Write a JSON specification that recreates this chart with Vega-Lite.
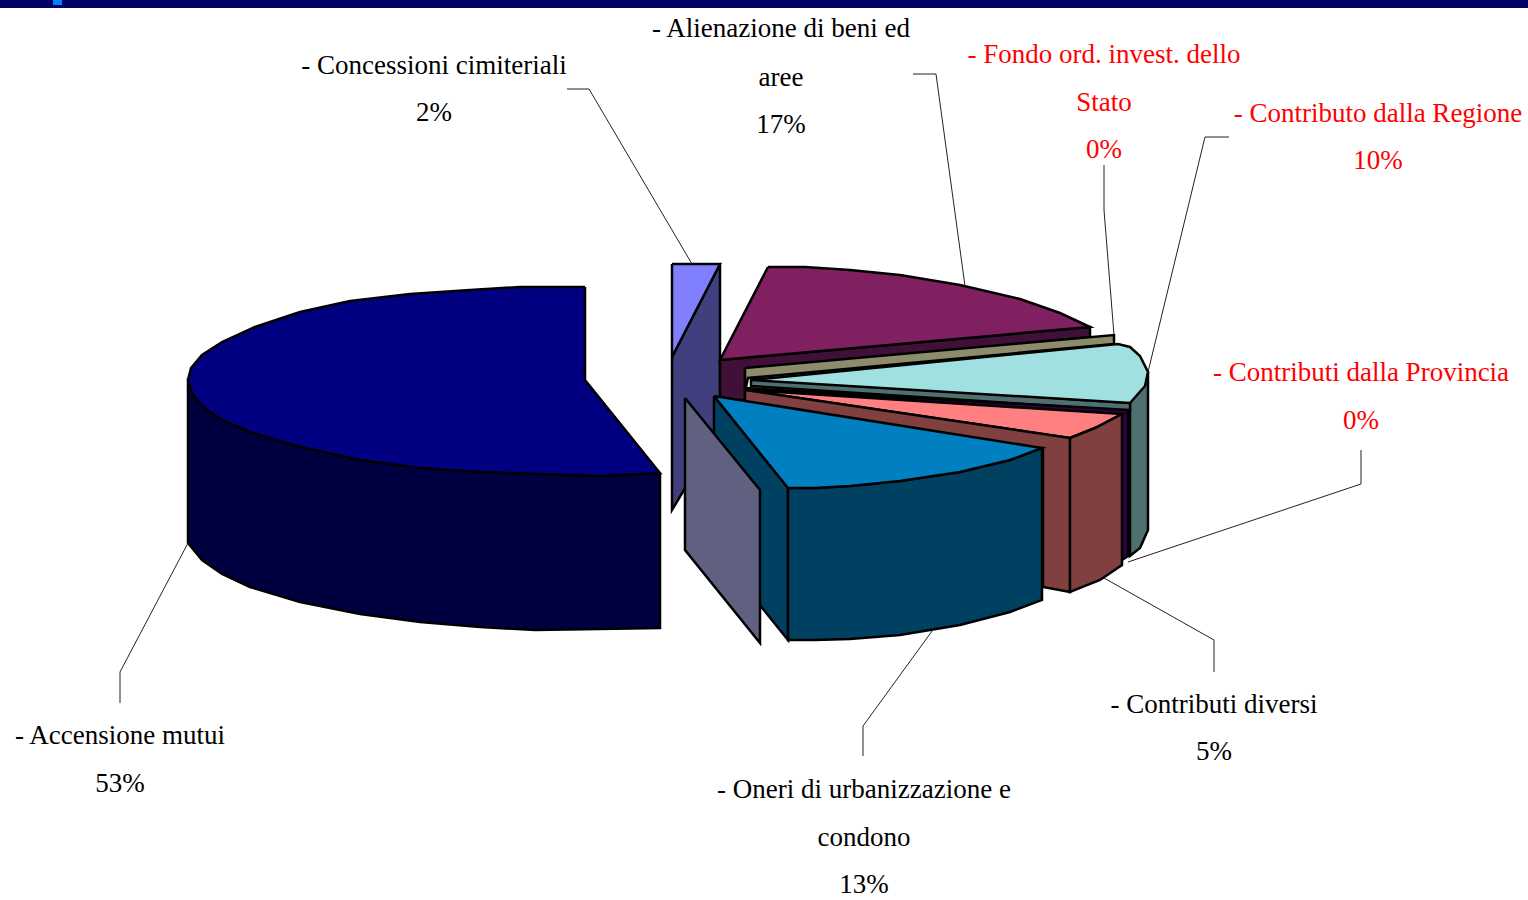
{"$schema":"https://vega.github.io/schema/vega-lite/v6.json","width":1528,"height":900,"autosize":{"type":"none"},"padding":0,"background":"white","config":{"view":{"stroke":null}},
"datasets":{
"top":[{"f":"fascia","i":0,"x":0,"y":0},{"f":"fascia","i":1,"x":1528,"y":0},{"f":"fascia","i":2,"x":1528,"y":8},{"f":"fascia","i":3,"x":0,"y":8},{"f":"fascia","i":4,"x":0,"y":0},
{"f":"tacca","i":0,"x":53,"y":0},{"f":"tacca","i":1,"x":62,"y":0},{"f":"tacca","i":2,"x":62,"y":5},{"f":"tacca","i":3,"x":53,"y":5},{"f":"tacca","i":4,"x":53,"y":0}],
"faces":[
{"f":"mutui_lato","i":0,"x":660,"y":473},{"f":"mutui_lato","i":1,"x":660,"y":628},{"f":"mutui_lato","i":2,"x":600,"y":629},{"f":"mutui_lato","i":3,"x":535,"y":630},{"f":"mutui_lato","i":4,"x":480,"y":627},{"f":"mutui_lato","i":5,"x":420,"y":622},{"f":"mutui_lato","i":6,"x":360,"y":614},{"f":"mutui_lato","i":7,"x":300,"y":602},{"f":"mutui_lato","i":8,"x":250,"y":587},{"f":"mutui_lato","i":9,"x":222,"y":574},{"f":"mutui_lato","i":10,"x":202,"y":560},{"f":"mutui_lato","i":11,"x":188,"y":543},{"f":"mutui_lato","i":12,"x":188,"y":380},{"f":"mutui_lato","i":13,"x":660,"y":473},
{"f":"mutui_sopra","i":0,"x":585,"y":287},{"f":"mutui_sopra","i":1,"x":585,"y":380},{"f":"mutui_sopra","i":2,"x":660,"y":473},{"f":"mutui_sopra","i":3,"x":600,"y":476},{"f":"mutui_sopra","i":4,"x":540,"y":474},{"f":"mutui_sopra","i":5,"x":480,"y":472},{"f":"mutui_sopra","i":6,"x":420,"y":468},{"f":"mutui_sopra","i":7,"x":360,"y":460},{"f":"mutui_sopra","i":8,"x":300,"y":447},{"f":"mutui_sopra","i":9,"x":250,"y":432},{"f":"mutui_sopra","i":10,"x":222,"y":420},{"f":"mutui_sopra","i":11,"x":202,"y":406},{"f":"mutui_sopra","i":12,"x":192,"y":393},{"f":"mutui_sopra","i":13,"x":188,"y":380},{"f":"mutui_sopra","i":14,"x":191,"y":368},{"f":"mutui_sopra","i":15,"x":202,"y":355},{"f":"mutui_sopra","i":16,"x":222,"y":342},{"f":"mutui_sopra","i":17,"x":255,"y":327},{"f":"mutui_sopra","i":18,"x":300,"y":312},{"f":"mutui_sopra","i":19,"x":350,"y":301},{"f":"mutui_sopra","i":20,"x":410,"y":294},{"f":"mutui_sopra","i":21,"x":470,"y":290},{"f":"mutui_sopra","i":22,"x":520,"y":287},{"f":"mutui_sopra","i":23,"x":585,"y":287},
{"f":"concessioni_lato","i":0,"x":672,"y":357},{"f":"concessioni_lato","i":1,"x":720,"y":264},{"f":"concessioni_lato","i":2,"x":720,"y":430},{"f":"concessioni_lato","i":3,"x":672,"y":510},{"f":"concessioni_lato","i":4,"x":672,"y":357},
{"f":"concessioni_sopra","i":0,"x":672,"y":264},{"f":"concessioni_sopra","i":1,"x":720,"y":264},{"f":"concessioni_sopra","i":2,"x":672,"y":357},{"f":"concessioni_sopra","i":3,"x":672,"y":264},
{"f":"alienazione_lato","i":0,"x":720,"y":360},{"f":"alienazione_lato","i":1,"x":1090,"y":327},{"f":"alienazione_lato","i":2,"x":1090,"y":337},{"f":"alienazione_lato","i":3,"x":745,"y":370},{"f":"alienazione_lato","i":4,"x":745,"y":400},{"f":"alienazione_lato","i":5,"x":720,"y":400},{"f":"alienazione_lato","i":6,"x":720,"y":360},
{"f":"alienazione_sopra","i":0,"x":768,"y":267},{"f":"alienazione_sopra","i":1,"x":805,"y":267},{"f":"alienazione_sopra","i":2,"x":850,"y":270},{"f":"alienazione_sopra","i":3,"x":900,"y":275},{"f":"alienazione_sopra","i":4,"x":960,"y":285},{"f":"alienazione_sopra","i":5,"x":1020,"y":299},{"f":"alienazione_sopra","i":6,"x":1060,"y":313},{"f":"alienazione_sopra","i":7,"x":1090,"y":327},{"f":"alienazione_sopra","i":8,"x":720,"y":360},{"f":"alienazione_sopra","i":9,"x":768,"y":267},
{"f":"fondo","i":0,"x":745,"y":368},{"f":"fondo","i":1,"x":1114,"y":335},{"f":"fondo","i":2,"x":1114,"y":344},{"f":"fondo","i":3,"x":748,"y":378},{"f":"fondo","i":4,"x":745,"y":392},{"f":"fondo","i":5,"x":745,"y":368},
{"f":"regione_lato","i":0,"x":1130,"y":403},{"f":"regione_lato","i":1,"x":1148,"y":375},{"f":"regione_lato","i":2,"x":1148,"y":530},{"f":"regione_lato","i":3,"x":1140,"y":548},{"f":"regione_lato","i":4,"x":1130,"y":556},{"f":"regione_lato","i":5,"x":1130,"y":403},
{"f":"regione_taglio","i":0,"x":751,"y":378},{"f":"regione_taglio","i":1,"x":1130,"y":403},{"f":"regione_taglio","i":2,"x":1130,"y":411},{"f":"regione_taglio","i":3,"x":751,"y":386},{"f":"regione_taglio","i":4,"x":751,"y":378},
{"f":"regione_sopra","i":0,"x":751,"y":380},{"f":"regione_sopra","i":1,"x":1118,"y":344},{"f":"regione_sopra","i":2,"x":1130,"y":347},{"f":"regione_sopra","i":3,"x":1140,"y":356},{"f":"regione_sopra","i":4,"x":1148,"y":372},{"f":"regione_sopra","i":5,"x":1145,"y":386},{"f":"regione_sopra","i":6,"x":1130,"y":403},{"f":"regione_sopra","i":7,"x":751,"y":380},
{"f":"provincia","i":0,"x":745,"y":388},{"f":"provincia","i":1,"x":1128,"y":410},{"f":"provincia","i":2,"x":1128,"y":556},{"f":"provincia","i":3,"x":1122,"y":560},{"f":"provincia","i":4,"x":1122,"y":416},{"f":"provincia","i":5,"x":745,"y":388},
{"f":"diversi_sopra","i":0,"x":745,"y":390},{"f":"diversi_sopra","i":1,"x":1122,"y":414},{"f":"diversi_sopra","i":2,"x":1095,"y":428},{"f":"diversi_sopra","i":3,"x":1070,"y":438},{"f":"diversi_sopra","i":4,"x":745,"y":390},
{"f":"diversi_taglio","i":0,"x":745,"y":390},{"f":"diversi_taglio","i":1,"x":1070,"y":438},{"f":"diversi_taglio","i":2,"x":1070,"y":592},{"f":"diversi_taglio","i":3,"x":1043,"y":587},{"f":"diversi_taglio","i":4,"x":1043,"y":450},{"f":"diversi_taglio","i":5,"x":745,"y":402},{"f":"diversi_taglio","i":6,"x":745,"y":390},
{"f":"diversi_lato","i":0,"x":1070,"y":438},{"f":"diversi_lato","i":1,"x":1095,"y":428},{"f":"diversi_lato","i":2,"x":1122,"y":414},{"f":"diversi_lato","i":3,"x":1122,"y":565},{"f":"diversi_lato","i":4,"x":1100,"y":580},{"f":"diversi_lato","i":5,"x":1070,"y":592},{"f":"diversi_lato","i":6,"x":1070,"y":438},
{"f":"oneri_taglio","i":0,"x":714,"y":396},{"f":"oneri_taglio","i":1,"x":788,"y":488},{"f":"oneri_taglio","i":2,"x":788,"y":640},{"f":"oneri_taglio","i":3,"x":714,"y":548},{"f":"oneri_taglio","i":4,"x":714,"y":396},
{"f":"oneri_lato","i":0,"x":788,"y":488},{"f":"oneri_lato","i":1,"x":815,"y":488},{"f":"oneri_lato","i":2,"x":850,"y":486},{"f":"oneri_lato","i":3,"x":900,"y":481},{"f":"oneri_lato","i":4,"x":960,"y":472},{"f":"oneri_lato","i":5,"x":1010,"y":460},{"f":"oneri_lato","i":6,"x":1042,"y":448},{"f":"oneri_lato","i":7,"x":1042,"y":600},{"f":"oneri_lato","i":8,"x":1010,"y":612},{"f":"oneri_lato","i":9,"x":960,"y":625},{"f":"oneri_lato","i":10,"x":900,"y":635},{"f":"oneri_lato","i":11,"x":850,"y":639},{"f":"oneri_lato","i":12,"x":815,"y":640},{"f":"oneri_lato","i":13,"x":788,"y":640},{"f":"oneri_lato","i":14,"x":788,"y":488},
{"f":"oneri_sopra","i":0,"x":714,"y":396},{"f":"oneri_sopra","i":1,"x":1042,"y":448},{"f":"oneri_sopra","i":2,"x":1010,"y":460},{"f":"oneri_sopra","i":3,"x":960,"y":472},{"f":"oneri_sopra","i":4,"x":900,"y":481},{"f":"oneri_sopra","i":5,"x":850,"y":486},{"f":"oneri_sopra","i":6,"x":815,"y":488},{"f":"oneri_sopra","i":7,"x":788,"y":488},{"f":"oneri_sopra","i":8,"x":714,"y":396},
{"f":"pannello","i":0,"x":685,"y":398},{"f":"pannello","i":1,"x":760,"y":490},{"f":"pannello","i":2,"x":760,"y":643},{"f":"pannello","i":3,"x":685,"y":550},{"f":"pannello","i":4,"x":685,"y":398}
],
"leaders":[
{"f":"a","i":0,"x":567,"y":89},{"f":"a","i":1,"x":589,"y":89},{"f":"a","i":2,"x":692,"y":264},
{"f":"b","i":0,"x":913,"y":74},{"f":"b","i":1,"x":936,"y":74},{"f":"b","i":2,"x":965,"y":286},
{"f":"c","i":0,"x":1104,"y":165},{"f":"c","i":1,"x":1104,"y":210},{"f":"c","i":2,"x":1114,"y":335},
{"f":"d","i":0,"x":1229,"y":137},{"f":"d","i":1,"x":1205,"y":137},{"f":"d","i":2,"x":1148,"y":372},
{"f":"e","i":0,"x":1361,"y":450},{"f":"e","i":1,"x":1361,"y":484},{"f":"e","i":2,"x":1128,"y":562},
{"f":"g","i":0,"x":1214,"y":672},{"f":"g","i":1,"x":1214,"y":640},{"f":"g","i":2,"x":1104,"y":578},
{"f":"h","i":0,"x":863,"y":756},{"f":"h","i":1,"x":863,"y":726},{"f":"h","i":2,"x":935,"y":627},
{"f":"k","i":0,"x":120,"y":703},{"f":"k","i":1,"x":120,"y":672},{"f":"k","i":2,"x":188,"y":543}
],
"labels":[
{"t":"- Concessioni cimiteriali","x":434,"y":66,"c":"nero"},{"t":"2%","x":434,"y":113,"c":"nero"},
{"t":"- Alienazione di beni ed","x":781,"y":29,"c":"nero"},{"t":"aree","x":781,"y":78,"c":"nero"},{"t":"17%","x":781,"y":125,"c":"nero"},
{"t":"- Fondo ord. invest. dello","x":1104,"y":55,"c":"rosso"},{"t":"Stato","x":1104,"y":103,"c":"rosso"},{"t":"0%","x":1104,"y":150,"c":"rosso"},
{"t":"- Contributo dalla Regione","x":1378,"y":114,"c":"rosso"},{"t":"10%","x":1378,"y":161,"c":"rosso"},
{"t":"- Contributi dalla Provincia","x":1361,"y":373,"c":"rosso"},{"t":"0%","x":1361,"y":421,"c":"rosso"},
{"t":"- Contributi diversi","x":1214,"y":705,"c":"nero"},{"t":"5%","x":1214,"y":752,"c":"nero"},
{"t":"- Oneri di urbanizzazione e","x":864,"y":790,"c":"nero"},{"t":"condono","x":864,"y":838,"c":"nero"},{"t":"13%","x":864,"y":885,"c":"nero"},
{"t":"- Accensione mutui","x":120,"y":736,"c":"nero"},{"t":"53%","x":120,"y":784,"c":"nero"}
]},
"resolve":{"scale":{"color":"independent"}},
"layer":[
{"data":{"name":"top"},"mark":{"type":"line","filled":true,"strokeWidth":0},"encoding":{"x":{"field":"x","type":"quantitative","scale":{"domain":[0,1528]},"axis":null},"y":{"field":"y","type":"quantitative","scale":{"domain":[0,900],"reverse":true},"axis":null},"order":{"field":"i"},"color":{"field":"f","legend":null,"scale":{"domain":["fascia","tacca"],"range":["#000066","#0080ff"]}}}},
{"data":{"name":"faces"},"mark":{"type":"line","filled":true,"stroke":"black","strokeWidth":2.5,"strokeJoin":"miter"},"encoding":{"x":{"field":"x","type":"quantitative","scale":{"domain":[0,1528]},"axis":null},"y":{"field":"y","type":"quantitative","scale":{"domain":[0,900],"reverse":true},"axis":null},"order":{"field":"i"},"color":{"field":"f","legend":null,"scale":{"domain":["mutui_lato","mutui_sopra","concessioni_lato","concessioni_sopra","alienazione_lato","alienazione_sopra","fondo","regione_lato","regione_taglio","regione_sopra","provincia","diversi_sopra","diversi_taglio","diversi_lato","oneri_taglio","oneri_lato","oneri_sopra","pannello"],"range":["#000040","#000080","#40407f","#8080ff","#401038","#802060","#8c8c6c","#507070","#507070","#a0e0e0","#300048","#ff8080","#804040","#804040","#004060","#004060","#0080c0","#606080"]}}}},
{"data":{"name":"leaders"},"mark":{"type":"line","color":"#222222","strokeWidth":1},"encoding":{"x":{"field":"x","type":"quantitative","scale":{"domain":[0,1528]},"axis":null},"y":{"field":"y","type":"quantitative","scale":{"domain":[0,900],"reverse":true},"axis":null},"order":{"field":"i"},"detail":{"field":"f"}}},
{"data":{"name":"labels"},"mark":{"type":"text","font":"Liberation Serif","fontSize":27,"align":"center","baseline":"middle"},"encoding":{"x":{"field":"x","type":"quantitative","scale":{"domain":[0,1528]},"axis":null},"y":{"field":"y","type":"quantitative","scale":{"domain":[0,900],"reverse":true},"axis":null},"text":{"field":"t"},"color":{"field":"c","legend":null,"scale":{"domain":["nero","rosso"],"range":["#000000","#ff0000"]}}}}
]}
